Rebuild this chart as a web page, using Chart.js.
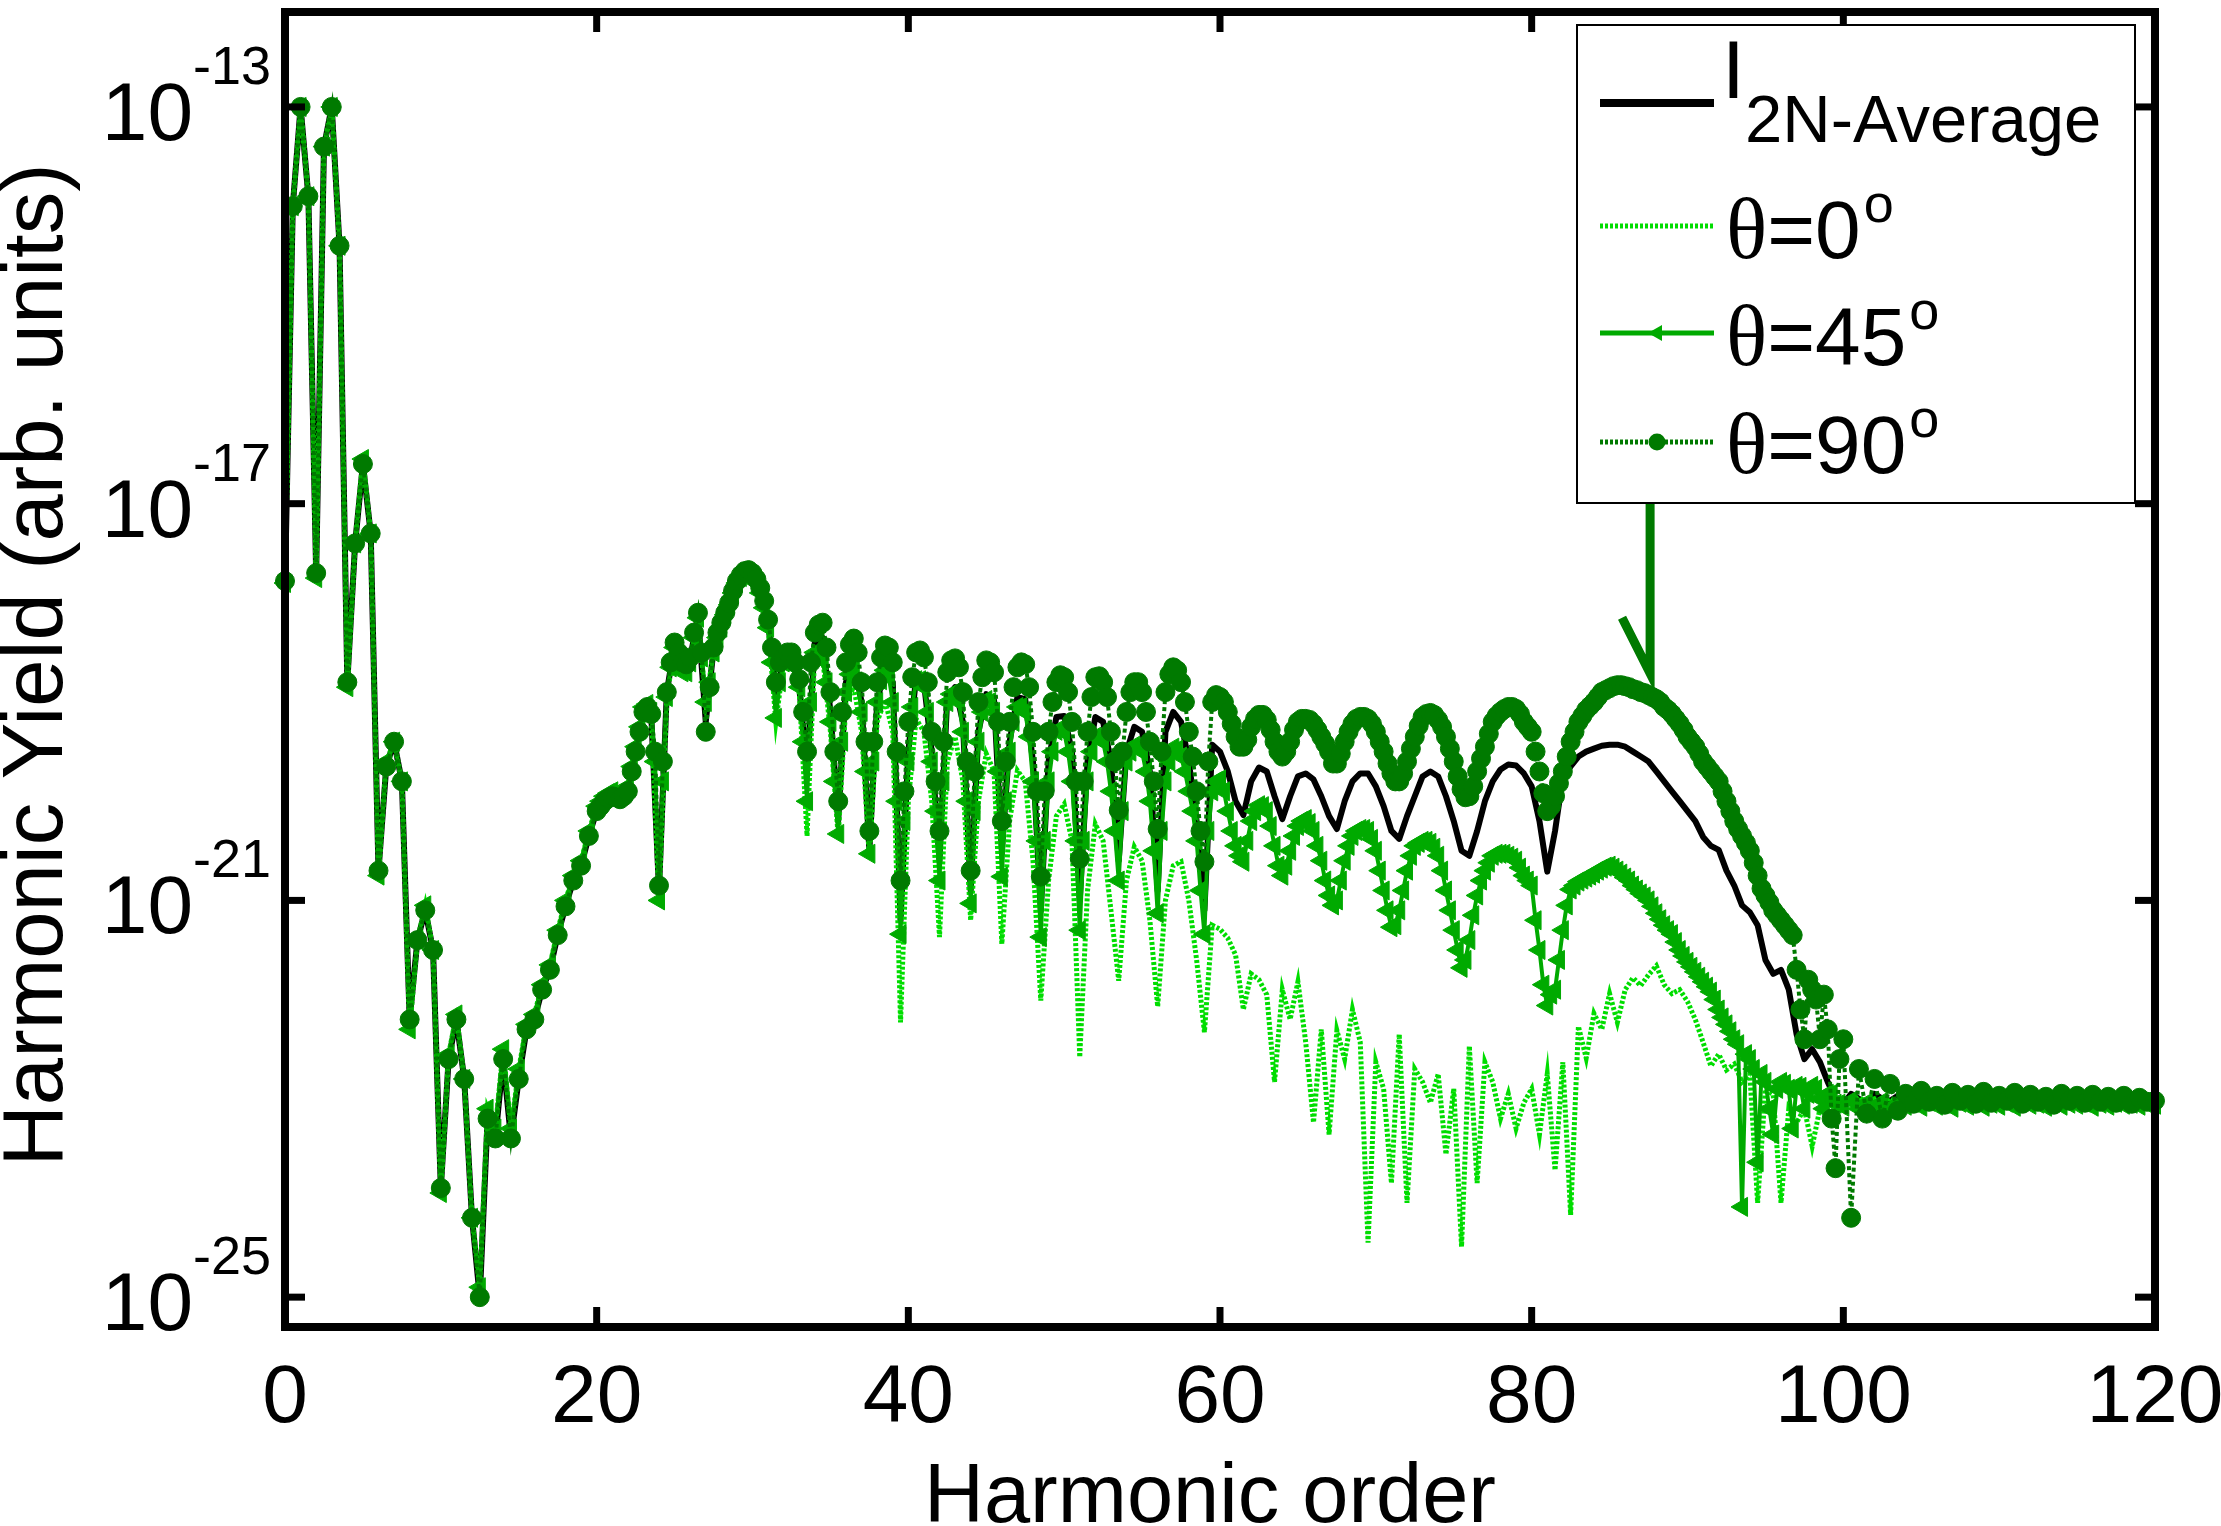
<!DOCTYPE html>
<html>
<head>
<meta charset="utf-8">
<script src="https://cdn.jsdelivr.net/npm/chart.js@4.4.1/dist/chart.umd.min.js"></script>
<style>
  html, body { margin: 0; padding: 0; background: #fff; }
  #wrap { width: 2221px; height: 1526px; position: relative; }
</style>
</head>
<body>
<div id="wrap"><canvas id="hhg"></canvas></div>
<script>
// ── harmonic order grid: 0 … 120 in steps of 0.5 ──
const orders = Array.from({ length: 241 }, (_, i) => i / 2);
// in-between orders 20.25 … 99.75, where the 45° / 90° markers sit densest
const fineOrders = Array.from({ length: 160 }, (_, i) => 20.25 + i / 2);

// ── log10 of the yield (one value per order) ──
const avgLog = [
  /*   0 */ -17.8, -14.0, -13.0, -13.9, -17.7, -13.4, -13.0, -14.4, -18.8, -17.4,
  /*   5 */ -16.6, -17.3, -20.7, -19.65, -19.4, -19.8, -22.2, -21.4, -21.1, -21.5,
  /*  10 */ -23.9, -22.6, -22.2, -22.8, -24.2, -25.0, -23.2, -23.4, -22.6, -23.4,
  /*  15 */ -22.8, -22.3, -22.2, -21.9, -21.7, -21.35, -21.06, -20.8, -20.65, -20.35,
  /*  20 */ -20.1, -20.0, -19.95, -19.98, -19.9, -19.5, -19.1, -19.12, -20.9, -18.9,
  /*  25 */ -18.42, -18.62, -18.57, -18.12, -19.2, -18.47, -18.22, -18.01, -17.79, -17.69,
  /*  30 */ -17.72, -17.87, -18.2, -18.9, -18.6, -18.55, -18.85, -19.7, -18.4, -18.35,
  /*  35 */ -19.1, -20.2, -18.8, -18.6, -19.0, -20.5, -19.0, -18.65, -18.8, -21.2,
  /*  40 */ -19.5, -18.75, -18.8, -19.5, -20.6, -18.95, -18.85, -19.2, -20.9, -19.3,
  /*  45 */ -18.92, -18.98, -20.5, -19.4, -18.95, -18.97, -19.6, -21.1, -19.6, -19.15,
  /*  50 */ -19.14, -19.5, -21.0, -19.6, -19.15, -19.2, -19.6, -20.6, -19.5, -19.25,
  /*  55 */ -19.3, -19.7, -20.9, -19.3, -19.1, -19.2, -19.6, -20.2, -21.1, -19.43,
  /*  60 */ -19.5, -19.7, -20.0, -20.14, -19.8, -19.66, -19.7, -19.95, -20.18, -19.95,
  /*  65 */ -19.75, -19.72, -19.78, -19.95, -20.15, -20.28, -20.0, -19.8, -19.72, -19.72,
  /*  70 */ -19.85, -20.05, -20.3, -20.38, -20.15, -19.95, -19.75, -19.7, -19.75, -19.95,
  /*  75 */ -20.2, -20.5, -20.55, -20.3, -20.0, -19.8, -19.68, -19.63, -19.64, -19.72,
  /*  80 */ -19.85, -20.2, -20.71, -20.3, -19.76, -19.65, -19.55, -19.5, -19.47, -19.44,
  /*  85 */ -19.43, -19.43, -19.45, -19.5, -19.55, -19.6, -19.7, -19.8, -19.9, -20.0,
  /*  90 */ -20.1, -20.2, -20.36, -20.45, -20.49, -20.7, -20.85, -21.05, -21.12, -21.25,
  /*  95 */ -21.6, -21.74, -21.7, -21.9, -22.35, -22.6, -22.5, -22.63, -22.83, -23.0,
  /* 100 */ -23.05, -22.95, -23.0, -23.05, -22.95, -23.0, -23.02, -22.97, -23.0, -23.03,
  /* 105 */ -22.98, -23.01, -22.99, -23.03, -22.97, -23.0, -23.02, -22.98, -23.01, -23.0,
  /* 110 */ -22.99, -23.02, -22.98, -23.01, -23.0, -22.99, -23.02, -22.98, -23.01, -23.0,
  /* 115 */ -22.99, -23.02, -22.98, -23.01, -23.0, -22.99, -23.02, -22.98, -23.01, -23.0,
  /* 120 */ -23.0
];

const deg0Log = [
  /*   0 */ -17.8, -14.0, -13.0, -13.9, -17.75, -13.4, -13.0, -14.4, -18.85, -17.4,
  /*   5 */ -16.55, -17.3, -20.75, -19.6, -19.4, -19.8, -22.3, -21.4, -21.05, -21.5,
  /*  10 */ -23.95, -22.55, -22.15, -22.8, -24.2, -24.9, -23.1, -23.3, -22.5, -23.3,
  /*  15 */ -22.7, -22.25, -22.15, -21.85, -21.65, -21.3, -21.0, -20.75, -20.6, -20.3,
  /*  20 */ -20.05, -19.95, -19.9, -19.95, -19.85, -19.45, -19.05, -19.1, -21.0, -18.95,
  /*  25 */ -18.45, -18.7, -18.6, -18.15, -19.0, -18.5, -18.25, -18.02, -17.8, -17.7,
  /*  30 */ -17.72, -17.9, -18.25, -19.2, -18.6, -18.55, -18.9, -20.35, -18.5, -18.55,
  /*  35 */ -19.3, -20.36, -19.0, -18.85, -19.3, -20.56, -19.2, -18.98, -19.3, -22.23,
  /*  40 */ -20.0, -19.17, -19.3, -20.0, -21.37, -19.6, -19.35, -19.8, -21.2, -20.0,
  /*  45 */ -19.52, -19.7, -21.44, -20.2, -19.69, -19.8, -20.6, -22.01, -20.8, -20.15,
  /*  50 */ -20.03, -20.4, -22.58, -20.9, -20.23, -20.4, -21.1, -21.81, -20.8, -20.46,
  /*  55 */ -20.6, -21.2, -22.07, -21.0, -20.65, -20.61, -21.0, -21.6, -22.33, -21.25,
  /*  60 */ -21.29, -21.38, -21.55, -22.1, -21.74, -21.8, -21.95, -22.83, -21.9, -22.2,
  /*  65 */ -21.82, -22.43, -23.24, -22.3, -23.36, -22.31, -22.6, -22.1, -22.43, -24.45,
  /*  70 */ -22.63, -22.9, -23.85, -22.35, -24.05, -22.7, -22.83, -23.04, -22.75, -23.56,
  /*  75 */ -22.9, -24.49, -22.47, -23.85, -22.63, -22.83, -23.2, -22.95, -23.3, -23.04,
  /*  80 */ -22.9, -23.36, -22.75, -23.72, -22.63, -24.17, -22.27, -22.59, -22.14, -22.3,
  /*  85 */ -21.94, -22.23, -21.9, -21.78, -21.86, -21.75, -21.66, -21.85, -21.94, -21.9,
  /*  90 */ -22.02, -22.2, -22.43, -22.67, -22.55, -22.71, -22.65, -22.83, -22.75, -24.05,
  /*  95 */ -22.9, -22.96, -24.05, -23.1, -23.24, -23.1, -23.48, -23.1, -23.04, -23.1,
  /* 100 */ -23.0, -23.05, -22.98, -23.04, -23.0, -23.03, -22.99, -23.04, -23.01, -23.02,
  /* 105 */ -22.99, -23.03, -23.0, -23.02, -22.99, -23.03, -23.0, -23.02, -23.01, -23.03,
  /* 110 */ -23.0, -23.02, -22.99, -23.03, -23.01, -23.02, -23.0, -23.03, -23.01, -23.02,
  /* 115 */ -23.0, -23.02, -23.01, -23.03, -23.0, -23.02, -23.01, -23.03, -23.0, -23.02,
  /* 120 */ -23.01
];

const deg45Log = [
  /*   0 */ -17.8, -14.0, -13.0, -13.9, -17.75, -13.4, -13.0, -14.4, -18.85, -17.4,
  /*   5 */ -16.55, -17.3, -20.75, -19.6, -19.4, -19.8, -22.3, -21.4, -21.05, -21.5,
  /*  10 */ -23.95, -22.55, -22.15, -22.8, -24.2, -24.9, -23.1, -23.3, -22.5, -23.3,
  /*  15 */ -22.7, -22.25, -22.15, -21.85, -21.65, -21.3, -21.0, -20.75, -20.6, -20.3,
  /*  20 */ -20.05, -19.95, -19.9, -19.95, -19.85, -19.45, -19.05, -19.1, -21.0, -18.95,
  /*  25 */ -18.45, -18.7, -18.6, -18.15, -19.0, -18.5, -18.25, -18.02, -17.8, -17.7,
  /*  30 */ -17.72, -17.9, -18.25, -19.16, -18.6, -18.55, -18.85, -20.0, -18.5, -18.58,
  /*  35 */ -19.2, -20.33, -18.9, -18.68, -19.1, -20.53, -19.0, -18.68, -19.0, -21.34,
  /*  40 */ -19.6, -18.78, -18.85, -19.6, -20.8, -19.0, -18.9, -19.3, -21.03, -19.4,
  /*  45 */ -18.98, -19.1, -20.76, -19.5, -19.05, -19.1, -19.8, -21.37, -19.8, -19.29,
  /*  50 */ -19.3, -19.8, -21.3, -19.8, -19.35, -19.4, -19.9, -20.8, -19.6, -19.44,
  /*  55 */ -19.5, -20.0, -21.13, -19.8, -19.46, -19.55, -19.9, -20.4, -21.34, -19.9,
  /*  60 */ -19.78, -20.1, -20.45, -20.61, -20.2, -20.04, -20.1, -20.45, -20.75, -20.5,
  /*  65 */ -20.25, -20.18, -20.3, -20.6, -20.95, -21.0, -20.6, -20.35, -20.28, -20.3,
  /*  70 */ -20.5, -20.9, -21.27, -21.1, -20.7, -20.45, -20.4, -20.42, -20.55, -20.9,
  /*  75 */ -21.3, -21.68, -21.4, -20.95, -20.7, -20.55, -20.53, -20.55, -20.6, -20.75,
  /*  80 */ -20.85, -21.5, -22.06, -21.9, -21.3, -20.89, -20.81, -20.77, -20.73, -20.68,
  /*  85 */ -20.65, -20.7, -20.77, -20.85, -20.93, -21.0, -21.13, -21.25, -21.34, -21.5,
  /*  90 */ -21.62, -21.72, -21.82, -21.92, -22.1, -22.25, -22.4, -24.09, -22.6, -23.64,
  /*  95 */ -22.83, -23.36, -22.83, -22.9, -22.87, -23.1, -22.87, -23.0, -22.95, -23.05,
  /* 100 */ -23.08, -23.02, -23.1, -23.04, -23.08, -23.03, -23.09, -23.05, -23.07, -23.04,
  /* 105 */ -23.08, -23.03, -23.07, -23.05, -23.09, -23.04, -23.07, -23.03, -23.08, -23.05,
  /* 110 */ -23.07, -23.04, -23.08, -23.03, -23.06, -23.05, -23.08, -23.04, -23.07, -23.05,
  /* 115 */ -23.06, -23.04, -23.08, -23.05, -23.07, -23.04, -23.06, -23.05, -23.07, -23.05,
  /* 120 */ -23.06
];

// 45° at the in-between orders 20.25 … 99.75
const deg45FineLog = [
  /* 20.25 */ -20.0, -19.92, -19.92, -19.92,
  /* 22.25 */ -19.65, -19.25, -19.02, -19.6,
  /* 24.25 */ -19.8, -18.65, -18.55, -18.7,
  /* 26.25 */ -18.35, -18.55, -18.8, -18.35,
  /* 28.25 */ -18.12, -17.9, -17.74, -17.69,
  /* 30.25 */ -17.8, -18.05, -18.6, -18.8,
  /* 32.25 */ -18.55, -18.65, -19.4, -19.0,
  /* 34.25 */ -18.52, -18.8, -19.8, -19.4,
  /* 36.25 */ -18.72, -18.8, -19.7, -19.6,
  /* 38.25 */ -18.78, -18.75, -20.0, -20.2,
  /* 40.25 */ -19.05, -18.78, -19.1, -20.1,
  /* 42.25 */ -19.8, -18.92, -19.0, -20.0,
  /* 44.25 */ -20.1, -19.1, -19.0, -19.7,
  /* 46.25 */ -20.0, -19.2, -19.05, -19.35,
  /* 48.25 */ -20.4, -20.4, -19.5, -19.28,
  /* 50.25 */ -19.5, -20.4, -20.4, -19.5,
  /* 52.25 */ -19.35, -19.6, -20.3, -20.1,
  /* 54.25 */ -19.5, -19.45, -19.7, -20.5,
  /* 56.25 */ -20.3, -19.6, -19.48, -19.7,
  /* 58.25 */ -20.1, -20.9, -20.3, -19.8,
  /* 60.25 */ -19.9, -20.3, -20.55, -20.4,
  /* 62.25 */ -20.1, -20.05, -20.25, -20.65,
  /* 64.25 */ -20.65, -20.35, -20.2, -20.22,
  /* 66.25 */ -20.45, -20.8, -21.05, -20.8,
  /* 68.25 */ -20.45, -20.3, -20.28, -20.38,
  /* 70.25 */ -20.7, -21.1, -21.25, -20.9,
  /* 72.25 */ -20.55, -20.42, -20.4, -20.47,
  /* 74.25 */ -20.7, -21.1, -21.5, -21.6,
  /* 76.25 */ -21.15, -20.8, -20.62, -20.53,
  /* 78.25 */ -20.53, -20.57, -20.67, -20.8,
  /* 80.25 */ -21.2, -21.85, -21.95, -21.6,
  /* 82.25 */ -21.05, -20.85, -20.79, -20.75,
  /* 84.25 */ -20.7, -20.66, -20.67, -20.73,
  /* 86.25 */ -20.8, -20.89, -20.96, -21.06,
  /* 88.25 */ -21.19, -21.3, -21.42, -21.56,
  /* 90.25 */ -21.67, -21.77, -21.87, -22.0,
  /* 92.25 */ -22.18, -22.32, -22.45, -22.55,
  /* 94.25 */ -22.7, -22.75, -23.1, -22.9,
  /* 96.25 */ -22.85, -23.3, -22.88, -22.95,
  /* 98.25 */ -22.9, -23.1, -22.95, -23.05
];

const deg90Log = [
  /*   0 */ -17.78, -14.0, -13.0, -13.9, -17.7, -13.4, -13.0, -14.4, -18.8, -17.4,
  /*   5 */ -16.6, -17.3, -20.7, -19.65, -19.4, -19.8, -22.2, -21.4, -21.1, -21.5,
  /*  10 */ -23.9, -22.6, -22.2, -22.8, -24.2, -25.0, -23.2, -23.4, -22.6, -23.4,
  /*  15 */ -22.8, -22.3, -22.2, -21.9, -21.7, -21.35, -21.06, -20.8, -20.65, -20.35,
  /*  20 */ -20.1, -20.0, -19.95, -19.98, -19.9, -19.5, -19.1, -19.12, -20.85, -18.9,
  /*  25 */ -18.4, -18.6, -18.55, -18.1, -19.3, -18.45, -18.2, -18.0, -17.78, -17.68,
  /*  30 */ -17.7, -17.85, -18.17, -18.8, -18.55, -18.5, -18.77, -19.5, -18.3, -18.2,
  /*  35 */ -18.9, -20.0, -18.6, -18.36, -18.8, -20.3, -18.8, -18.43, -18.6, -20.8,
  /*  40 */ -19.2, -18.5, -18.55, -19.3, -20.3, -18.7, -18.56, -18.9, -20.7, -19.0,
  /*  45 */ -18.58, -18.7, -20.2, -19.2, -18.65, -18.62, -19.3, -20.76, -19.3, -18.8,
  /*  50 */ -18.75, -19.2, -20.58, -19.3, -18.75, -18.8, -19.3, -20.09, -19.1, -18.8,
  /*  55 */ -18.9, -19.4, -20.28, -18.9, -18.65, -18.8, -19.3, -19.9, -20.61, -19.0,
  /*  60 */ -18.95, -19.1, -19.35, -19.45, -19.25, -19.13, -19.18, -19.4, -19.55, -19.4,
  /*  65 */ -19.2, -19.17, -19.22, -19.35, -19.5, -19.62, -19.4, -19.22, -19.15, -19.17,
  /*  70 */ -19.3, -19.5, -19.72, -19.8, -19.6, -19.35, -19.15, -19.11, -19.18, -19.35,
  /*  75 */ -19.6, -19.88, -19.95, -19.7, -19.45, -19.2, -19.1, -19.05, -19.07, -19.2,
  /*  80 */ -19.3, -19.7, -20.1, -19.95, -19.7, -19.4, -19.2, -19.08, -19.0, -18.9,
  /*  85 */ -18.86, -18.83, -18.84, -18.87, -18.9, -18.93, -18.97, -19.05, -19.12, -19.22,
  /*  90 */ -19.35, -19.45, -19.6, -19.7, -19.8, -20.0, -20.2, -20.35, -20.5, -20.75,
  /*  95 */ -20.95, -21.1, -21.2, -21.3, -21.7, -22.4, -21.9, -22.4, -22.3, -23.7,
  /* 100 */ -22.4, -24.2, -22.7, -23.15, -22.8, -23.2, -22.85, -23.12, -22.95, -23.05,
  /* 105 */ -22.92, -23.03, -22.97, -23.06, -22.94, -23.02, -22.96, -23.05, -22.93, -23.04,
  /* 110 */ -22.97, -23.02, -22.94, -23.05, -22.96, -23.03, -22.98, -23.06, -22.95, -23.02,
  /* 115 */ -22.97, -23.04, -22.96, -23.03, -22.98, -23.04, -22.97, -23.05, -22.99, -23.03,
  /* 120 */ -23.02
];

// 90° at the in-between orders 20.25 … 99.75
const deg90FineLog = [
  /* 20.25 */ -20.05, -19.97, -19.96, -19.95,
  /* 22.25 */ -19.7, -19.3, -19.05, -19.5,
  /* 24.25 */ -19.6, -18.6, -18.5, -18.62,
  /* 26.25 */ -18.3, -18.5, -18.85, -18.3,
  /* 28.25 */ -18.1, -17.88, -17.72, -17.67,
  /* 30.25 */ -17.76, -17.98, -18.45, -18.6,
  /* 32.25 */ -18.5, -18.6, -19.1, -18.6,
  /* 34.25 */ -18.22, -18.45, -19.5, -19.1,
  /* 36.25 */ -18.42, -18.5, -19.4, -19.4,
  /* 38.25 */ -18.55, -18.45, -19.5, -19.9,
  /* 40.25 */ -18.75, -18.48, -18.8, -19.8,
  /* 42.25 */ -19.4, -18.58, -18.65, -19.6,
  /* 44.25 */ -19.7, -18.75, -18.6, -19.2,
  /* 46.25 */ -19.6, -18.85, -18.6, -18.85,
  /* 48.25 */ -19.9, -19.9, -19.0, -18.73,
  /* 50.25 */ -18.9, -19.8, -19.8, -18.95,
  /* 52.25 */ -18.74, -18.95, -19.6, -19.5,
  /* 54.25 */ -18.9, -18.8, -19.1, -19.8,
  /* 56.25 */ -19.5, -18.72, -18.68, -19.0,
  /* 58.25 */ -19.55, -20.3, -19.6, -18.93,
  /* 60.25 */ -19.0, -19.22, -19.45, -19.38,
  /* 62.25 */ -19.17, -19.13, -19.28, -19.5,
  /* 64.25 */ -19.5, -19.28, -19.17, -19.18,
  /* 66.25 */ -19.28, -19.42, -19.62, -19.52,
  /* 68.25 */ -19.3, -19.17, -19.15, -19.22,
  /* 70.25 */ -19.4, -19.62, -19.8, -19.72,
  /* 72.25 */ -19.47, -19.24, -19.12, -19.13,
  /* 74.25 */ -19.25, -19.47, -19.75, -19.96,
  /* 76.25 */ -19.85, -19.57, -19.32, -19.14,
  /* 78.25 */ -19.07, -19.05, -19.12, -19.25,
  /* 80.25 */ -19.5, -19.92, -20.05, -19.82,
  /* 82.25 */ -19.55, -19.3, -19.14, -19.04,
  /* 84.25 */ -18.95, -18.88, -18.84, -18.83,
  /* 86.25 */ -18.85, -18.88, -18.91, -18.95,
  /* 88.25 */ -19.0, -19.08, -19.17, -19.28,
  /* 90.25 */ -19.4, -19.52, -19.65, -19.75,
  /* 92.25 */ -19.9, -20.1, -20.28, -20.42,
  /* 94.25 */ -20.62, -20.88, -21.02, -21.15,
  /* 96.25 */ -21.25, -21.35, -22.1, -21.8,
  /* 98.25 */ -22.0, -21.95, -23.2, -22.6
];

// arrow marking the cutoff hump (shaft top, tip, barb end)
const arrowX   = [87.6, 87.6, 85.8];
const arrowLog = [-17.0, -18.71, -18.15];

// axes
const xTicks   = [0, 20, 40, 60, 80, 100, 120];
const yTickExp = [-13, -17, -21, -25];
const angles   = [0, 45, 90];

// ── styling ──
const SANS  = '"Liberation Sans", Arial, Helvetica, sans-serif';
const SERIF = '"Liberation Serif", "Times New Roman", serif';
const C0  = '#00dd00';
const C45 = '#00aa00';
const C90 = '#007a00';

const toPoints = (xs, logs) => xs.map((x, i) => ({ x, y: Math.pow(10, logs[i]) }));
const withFine = (logs, fineLogs) =>
  toPoints(orders, logs).concat(toPoints(fineOrders, fineLogs)).sort((a, b) => a.x - b.x);

function seg(ctx, x1, y1, x2, y2) {
  ctx.beginPath(); ctx.moveTo(x1, y1); ctx.lineTo(x2, y2); ctx.stroke();
}

// ── axes box, inward ticks, tick labels, titles ──
const frame = {
  id: 'frame',
  afterDraw(chart) {
    const { ctx, chartArea: a, scales: { x, y } } = chart;
    ctx.save();
    ctx.strokeStyle = '#000';
    ctx.fillStyle = '#000';
    ctx.lineCap = 'butt';

    ctx.lineWidth = 7;
    xTicks.forEach(v => {
      const px = x.getPixelForValue(v);
      seg(ctx, px, a.bottom, px, a.bottom - 20);
      seg(ctx, px, a.top, px, a.top + 20);
    });
    yTickExp.forEach(e => {
      const py = y.getPixelForValue(Math.pow(10, e));
      seg(ctx, a.left, py, a.left + 20, py);
      seg(ctx, a.right, py, a.right - 20, py);
    });

    ctx.lineWidth = 8;
    ctx.strokeRect(a.left, a.top, a.right - a.left, a.bottom - a.top);

    // x tick labels
    ctx.font = `82px ${SANS}`;
    ctx.textAlign = 'center';
    ctx.textBaseline = 'alphabetic';
    xTicks.forEach(v => ctx.fillText(String(v), x.getPixelForValue(v), 1422));

    // y tick labels: 10 with superscript exponent
    yTickExp.forEach(e => {
      const py = y.getPixelForValue(Math.pow(10, e));
      ctx.font = `82px ${SANS}`;
      ctx.textAlign = 'right';
      ctx.fillText('10', 193, py + 33);
      ctx.font = `54px ${SANS}`;
      ctx.textAlign = 'left';
      ctx.fillText(String(e), 193, py - 23);
    });

    // axis titles
    ctx.font = `83px ${SANS}`;
    ctx.textAlign = 'center';
    ctx.fillText('Harmonic order', 1210, 1522);
    ctx.save();
    ctx.translate(62, 665);
    ctx.rotate(-Math.PI / 2);
    ctx.font = `85px ${SANS}`;
    ctx.fillText('Harmonic Yield (arb. units)', 0, 0);
    ctx.restore();

    drawLegend(ctx);
    ctx.restore();
  }
};

function drawLegend(ctx) {
  const l = 1577, t = 25, r = 2135, b = 503;
  ctx.fillStyle = '#fff';
  ctx.fillRect(l, t, r - l, b - t);
  ctx.lineWidth = 2;
  ctx.strokeStyle = '#000';
  ctx.strokeRect(l, t, r - l, b - t);

  const x0 = 1600, x1 = 1714, mx = 1657, tx = 1726;
  const rows = [103, 226, 333, 442];

  // average
  ctx.lineWidth = 8;
  ctx.strokeStyle = '#000';
  seg(ctx, x0, rows[0], x1, rows[0]);
  ctx.fillStyle = '#000';
  ctx.textAlign = 'left';
  ctx.textBaseline = 'alphabetic';
  ctx.font = `82px ${SANS}`;
  ctx.fillText('I', tx - 4, 98);
  ctx.font = `67px ${SANS}`;
  ctx.fillText('2N-Average', 1745, 142);

  // 0 deg: dotted
  ctx.lineWidth = 5;
  ctx.strokeStyle = C0;
  ctx.setLineDash([3, 2]);
  seg(ctx, x0, rows[1], x1, rows[1]);
  // 45 deg: solid + left triangle
  ctx.setLineDash([]);
  ctx.strokeStyle = C45;
  seg(ctx, x0, rows[2], x1, rows[2]);
  ctx.fillStyle = C45;
  ctx.beginPath();
  ctx.moveTo(mx - 9, rows[2]);
  ctx.lineTo(mx + 5, rows[2] - 8);
  ctx.lineTo(mx + 5, rows[2] + 8);
  ctx.closePath();
  ctx.fill();
  // 90 deg: dotted + circle
  ctx.strokeStyle = C90;
  ctx.setLineDash([3, 2]);
  seg(ctx, x0, rows[3], x1, rows[3]);
  ctx.setLineDash([]);
  ctx.fillStyle = C90;
  ctx.beginPath();
  ctx.arc(mx, rows[3], 8.5, 0, Math.PI * 2);
  ctx.fill();

  // theta labels
  const bases = [258, 365, 473];
  ctx.fillStyle = '#000';
  angles.forEach((ang, i) => {
    ctx.font = `86px ${SERIF}`;
    ctx.fillText('θ', tx, bases[i]);
    const w1 = ctx.measureText('θ').width;
    ctx.font = `82px ${SANS}`;
    const s = '=' + ang;
    ctx.fillText(s, tx + w1, bases[i]);
    const w2 = ctx.measureText(s).width;
    ctx.font = `54px ${SANS}`;
    ctx.fillText('o', tx + w1 + w2 + 3, bases[i] - 36);
  });
}

new Chart(document.getElementById('hhg'), {
  type: 'line',
  data: {
    datasets: [
      {
        label: 'I 2N-Average',
        data: toPoints(orders, avgLog),
        borderColor: '#000', borderWidth: 6, borderJoinStyle: 'round',
        pointRadius: 0, order: 4, clip: false
      },
      {
        label: 'θ=0°',
        data: toPoints(orders, deg0Log),
        borderColor: C0, borderWidth: 5, borderDash: [3, 2],
        pointRadius: 0, order: 3, clip: false
      },
      {
        label: 'θ=45°',
        data: withFine(deg45Log, deg45FineLog),
        borderColor: C45, borderWidth: 4, borderJoinStyle: 'round',
        pointStyle: 'triangle', pointRotation: -90, pointRadius: 11,
        pointBackgroundColor: C45, pointBorderColor: C45, pointBorderWidth: 1,
        order: 2, clip: false
      },
      {
        label: 'θ=90°',
        data: withFine(deg90Log, deg90FineLog),
        borderColor: C90, borderWidth: 4, borderDash: [4, 3],
        pointStyle: 'circle', pointRadius: 9.5,
        pointBackgroundColor: C90, pointBorderColor: C90, pointBorderWidth: 1,
        order: 1, clip: false
      },
      {
        label: 'arrow',
        data: toPoints(arrowX, arrowLog),
        borderColor: C90, borderWidth: 9, borderJoinStyle: 'miter',
        pointRadius: 0, order: 0, clip: false
      }
    ]
  },
  options: {
    responsive: true,
    maintainAspectRatio: false,
    animation: false,
    events: [],
    layout: { padding: { left: 285, right: 66, top: 11, bottom: 199 } },
    scales: {
      x: { type: 'linear', min: 0, max: 120, display: false },
      y: { type: 'logarithmic', min: 5e-26, max: 9.06e-13, display: false }
    },
    plugins: {
      legend: { display: false },
      tooltip: { enabled: false }
    }
  },
  plugins: [frame]
});
</script>
</body>
</html>
